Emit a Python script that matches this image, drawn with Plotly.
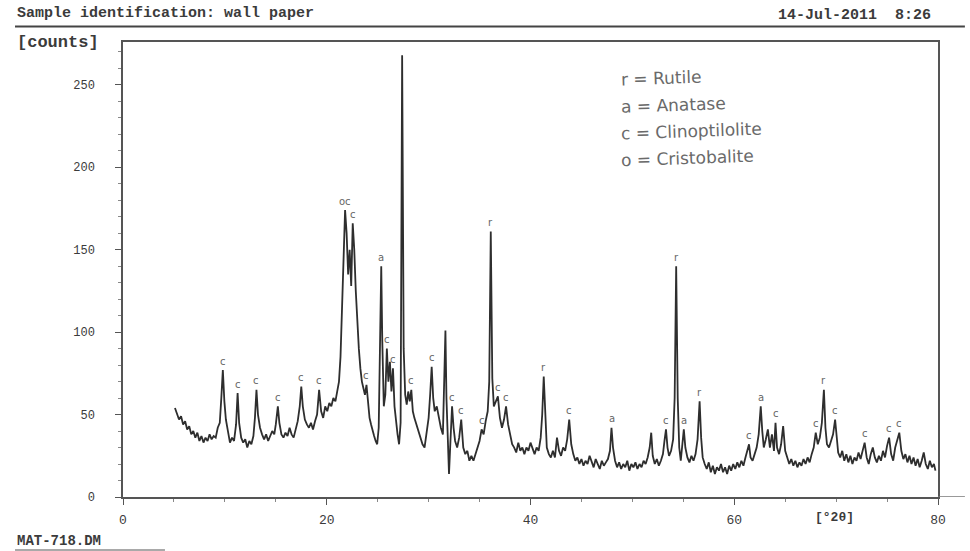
import plotly.graph_objects as go

# Diffraction scan: 2-theta (degrees) and intensity (counts)
two_theta = [
    5.1, 5.3, 5.5, 5.7, 5.9, 6.1, 6.3, 6.5, 6.7, 6.9, 7.1, 7.3, 7.5, 7.7, 7.9, 8.1, 8.3, 8.5, 8.7, 8.9,
    9.1, 9.3, 9.5, 9.65, 9.8, 9.95, 10.1, 10.3, 10.5, 10.7, 10.9, 11.1, 11.25, 11.4, 11.6, 11.8, 12.0,
    12.2, 12.4, 12.6, 12.8, 12.95, 13.1, 13.25, 13.45, 13.65, 13.85, 14.05, 14.25, 14.45, 14.65, 14.85,
    15.0, 15.2, 15.35, 15.55, 15.75, 15.95, 16.15, 16.35, 16.55, 16.75, 16.95, 17.15, 17.35, 17.5, 17.65,
    17.85, 18.05, 18.25, 18.45, 18.65, 18.85, 19.05, 19.25, 19.45, 19.65, 19.85, 20.05, 20.25, 20.45,
    20.65, 20.85, 21.05, 21.2, 21.35, 21.5, 21.65, 21.8, 21.95, 22.1, 22.25, 22.4, 22.55, 22.7, 22.85,
    23.0, 23.15, 23.3, 23.45, 23.6, 23.75, 23.9, 24.05, 24.2, 24.35, 24.5, 24.65, 24.8, 24.95, 25.1,
    25.25, 25.35, 25.45, 25.6, 25.75, 25.9, 26.05, 26.2, 26.35, 26.5, 26.65, 26.8, 26.95, 27.1, 27.25,
    27.4, 27.55, 27.7, 27.85, 28.0, 28.15, 28.3, 28.45, 28.6, 28.8, 29.0, 29.2, 29.4, 29.6, 29.8, 30.0,
    30.15, 30.3, 30.45, 30.6, 30.8, 31.0, 31.2, 31.4, 31.55, 31.65, 31.75, 31.9, 32.0, 32.15, 32.3,
    32.45, 32.6, 32.8, 33.0, 33.2, 33.4, 33.6, 33.8, 34.0, 34.2, 34.4, 34.6, 34.8, 35.0, 35.2, 35.4,
    35.6, 35.8, 35.95, 36.1, 36.25, 36.4, 36.6, 36.8, 37.0, 37.2, 37.4, 37.6, 37.8, 38.0, 38.2, 38.4,
    38.6, 38.8, 39.0, 39.2, 39.4, 39.6, 39.8, 40.0, 40.2, 40.4, 40.6, 40.8, 41.0, 41.15, 41.3, 41.45,
    41.6, 41.8, 42.0, 42.2, 42.4, 42.6, 42.8, 43.0, 43.2, 43.4, 43.6, 43.8, 44.0, 44.2, 44.4, 44.6,
    44.8, 45.0, 45.2, 45.4, 45.6, 45.8, 46.0, 46.2, 46.4, 46.6, 46.8, 47.0, 47.2, 47.4, 47.6, 47.8,
    47.95, 48.1, 48.3, 48.5, 48.7, 48.9, 49.1, 49.3, 49.5, 49.7, 49.9, 50.1, 50.3, 50.5, 50.7, 50.9,
    51.1, 51.3, 51.5, 51.7, 51.85, 52.0, 52.2, 52.4, 52.6, 52.8, 53.0, 53.15, 53.3, 53.45, 53.6, 53.8,
    54.0, 54.15, 54.3, 54.45, 54.6, 54.75, 54.9, 55.05, 55.2, 55.4, 55.6, 55.8, 56.0, 56.2, 56.4, 56.6,
    56.75, 56.9, 57.1, 57.3, 57.5, 57.7, 57.9, 58.1, 58.3, 58.5, 58.7, 58.9, 59.1, 59.3, 59.5, 59.7,
    59.9, 60.1, 60.3, 60.5, 60.7, 60.9, 61.1, 61.3, 61.45, 61.6, 61.8, 62.0, 62.2, 62.4, 62.6, 62.75,
    62.9, 63.1, 63.3, 63.5, 63.7, 63.9, 64.05, 64.2, 64.4, 64.6, 64.8, 65.0, 65.2, 65.4, 65.6, 65.8,
    66.0, 66.2, 66.4, 66.6, 66.8, 67.0, 67.2, 67.4, 67.6, 67.8, 68.0, 68.2, 68.4, 68.6, 68.8, 68.95,
    69.1, 69.3, 69.5, 69.7, 69.9, 70.05, 70.2, 70.4, 70.6, 70.8, 71.0, 71.2, 71.4, 71.6, 71.8, 72.0,
    72.2, 72.4, 72.6, 72.8, 73.0, 73.2, 73.4, 73.6, 73.8, 74.0, 74.2, 74.4, 74.6, 74.8, 75.0, 75.2,
    75.4, 75.6, 75.8, 76.0, 76.2, 76.4, 76.6, 76.8, 77.0, 77.2, 77.4, 77.6, 77.8, 78.0, 78.2, 78.4,
    78.6, 78.8, 79.0, 79.2, 79.4, 79.6, 79.75,
]
counts = [
    54, 50, 47, 49, 44, 46, 41, 43, 38, 40, 36, 39, 34, 37, 33, 36, 34, 38, 35, 37,
    36, 42, 45, 60, 77, 58, 47, 40, 33, 36, 34, 44, 63, 45, 36, 33, 35,
    30, 34, 32, 37, 48, 65, 50, 42, 38, 35, 38, 34, 37, 40, 38,
    44, 55, 45, 38, 36, 39, 37, 42, 38, 36, 41, 46, 55, 67, 55,
    47, 44, 42, 45, 41, 46, 50, 65, 52, 48, 55, 52, 57, 55,
    60, 58, 64, 70, 85, 120, 155, 174, 160, 135, 150, 128, 166, 150, 125,
    105, 90, 78, 70, 66, 62, 68, 55, 48, 44, 40, 37, 34, 32, 42,
    90, 140, 95, 55, 62, 90, 70, 82, 64, 78, 55, 45, 38, 32, 45,
    268, 90, 62, 56, 64, 58, 65, 52, 48, 44, 40, 36, 32, 30, 38, 48,
    62, 79, 60, 52, 55, 48, 42, 38, 70, 101, 60, 30, 14, 35, 55,
    42, 34, 30, 36, 47, 30, 26, 28, 22, 25, 22, 26, 30, 34, 41, 38,
    46, 52, 70, 161, 72, 55, 58, 61, 48, 42, 47, 55, 44, 38, 32, 30,
    27, 33, 28, 30, 26, 30, 28, 33, 30, 26, 30, 28, 36, 50, 73, 45,
    30, 26, 24, 28, 24, 36, 28, 25, 30, 28, 35, 47, 32, 26, 22, 24,
    20, 23, 19, 22, 20, 25, 21, 18, 23, 20, 17, 22, 19, 21, 23, 28,
    42, 30, 22, 18, 21, 17, 20, 18, 22, 16, 20, 18, 21, 17, 20, 18,
    22, 20, 24, 30, 39, 25, 20, 23, 19, 22, 26, 34, 41, 30, 25, 28,
    35, 60, 140, 60, 30, 22, 30, 41, 30, 24, 21, 25, 22, 26, 35, 58,
    36, 24, 20, 17, 21, 15, 19, 14, 18, 16, 20, 15, 18, 14, 19, 16,
    20, 17, 21, 18, 22, 19, 24, 28, 32, 24, 22, 26, 30, 38, 55, 40,
    30, 35, 41, 30, 38, 28, 45, 30, 26, 32, 43, 28, 24, 20, 23, 19,
    22, 18, 21, 19, 23, 20, 24, 21, 26, 30, 39, 32, 36, 45, 65, 42,
    32, 30, 34, 38, 47, 34, 27, 24, 28, 22, 26, 21, 25, 20, 24, 22,
    27, 23, 28, 33, 24, 20, 26, 30, 24, 21, 25, 22, 28, 24, 31, 36,
    26, 22, 30, 35, 39, 28, 23, 26, 21, 25, 20, 24, 19, 23, 18, 22,
    27, 20, 17, 22, 18, 20, 16,
]

# Phase marks written above the reflections
mark_2theta = [9.8, 11.25, 13.1, 15.2, 17.5, 19.25, 21.8, 22.55, 23.9, 25.35, 25.9, 26.5,
               28.3, 30.3, 32.3, 33.2, 35.2, 36.1, 36.8, 37.6, 41.3, 43.8, 48.0, 53.3,
               54.3, 55.05, 56.6, 61.45, 62.6, 64.05, 68.0, 68.8, 69.9, 72.8, 75.2, 76.2]
mark_letter = ["c", "c", "c", "c", "c", "c", "oc", "c", "c", "a", "c", "c",
               "c", "c", "c", "c", "c", "r", "c", "c", "r", "c", "a", "c",
               "r", "a", "r", "c", "a", "c", "c", "r", "c", "c", "c", "c"]

phase_key = ["r = Rutile", "a = Anatase", "c = Clinoptilolite", "o = Cristobalite"]

y_ticks = [0, 50, 100, 150, 200, 250]
x_ticks = [0, 20, 40, 60, 80]

X_MAX, Y_MAX = 80, 276
MONO = "Liberation Mono, DejaVu Sans Mono, monospace"
INK = "#3b3b3b"

fig = go.Figure()
fig.add_trace(go.Scatter(
    x=two_theta, y=counts, mode="lines",
    line=dict(color="#2e2e2e", width=1.8),
    hoverinfo="x+y", showlegend=False,
))

annotations = []
for t, letter in zip(mark_2theta, mark_letter):
    peak = max(c for x, c in zip(two_theta, counts) if abs(x - t) <= 0.1)
    annotations.append(dict(
        x=t, y=peak, xref="x", yref="y", text=letter, showarrow=False,
        yshift=9, font=dict(family="DejaVu Sans", size=10, color="#666666"),
    ))

# handwritten phase key
for i, line in enumerate(phase_key):
    annotations.append(dict(
        x=0.608, y=0.92 - i * 0.058, xref="paper", yref="paper", text=line,
        xanchor="left", yanchor="middle", showarrow=False, textangle=-2,
        font=dict(family="DejaVu Sans", size=17, color="#6a6a6a"),
    ))

annotations += [
    dict(x=-0.1325, y=1.062, xref="paper", yref="paper", xanchor="left", yanchor="middle",
         text="<b>Sample identification: wall paper</b>", showarrow=False,
         font=dict(family=MONO, size=15, color=INK)),
    dict(x=0.994, y=1.059, xref="paper", yref="paper", xanchor="right", yanchor="middle",
         text="<b>14-Jul-2011  8:26</b>", showarrow=False,
         font=dict(family=MONO, size=15, color=INK)),
    dict(x=-0.1325, y=0.998, xref="paper", yref="paper", xanchor="left", yanchor="middle",
         text="<b>[counts]</b>", showarrow=False,
         font=dict(family=MONO, size=17, color=INK)),
    dict(x=69.8, y=-0.044, xref="x", yref="paper", xanchor="center", yanchor="middle",
         text="<b>[°2θ]</b>", showarrow=False,
         font=dict(family=MONO, size=13, color=INK)),
    dict(x=-0.1325, y=-0.097, xref="paper", yref="paper", xanchor="left", yanchor="middle",
         text="<b>MAT-718.DM</b>", showarrow=False,
         font=dict(family=MONO, size=14, color=INK)),
]

shapes = [
    # header rule
    dict(type="line", xref="paper", yref="paper", x0=-0.1325, x1=1.033, y0=1.034, y1=1.034,
         line=dict(color="#444444", width=2), layer="above"),
    # file-name underline
    dict(type="line", xref="paper", yref="paper", x0=-0.1325, x1=0.0515, y0=-0.1165, y1=-0.1165,
         line=dict(color="#555555", width=1.2)),
    # baseline running past the frame
    dict(type="line", xref="paper", yref="y", x0=1.0, x1=1.033, y0=0, y1=0,
         line=dict(color="#777777", width=1.5)),
]

fig.update_layout(
    width=970, height=551,
    margin=dict(l=123, r=32, t=42, b=54),
    paper_bgcolor="white", plot_bgcolor="white",
    annotations=annotations, shapes=shapes,
    xaxis=dict(
        range=[0, X_MAX], tickvals=x_ticks,
        showgrid=False, zeroline=False, showline=True, linecolor="#555555", linewidth=1.5,
        mirror=True, ticks="outside", ticklen=6, tickcolor="#555555",
        minor=dict(dtick=5, ticks="outside", ticklen=3, tickcolor="#888888"),
        tickfont=dict(family=MONO, size=13, color=INK), ticklabelstandoff=4,
    ),
    yaxis=dict(
        range=[0, Y_MAX], tickvals=y_ticks,
        showgrid=False, zeroline=False, showline=True, linecolor="#555555", linewidth=1.5,
        mirror=True, ticks="outside", ticklen=6, tickcolor="#555555",
        minor=dict(dtick=10, ticks="outside", ticklen=3, tickcolor="#888888"),
        tickfont=dict(family=MONO, size=12, color=INK), ticklabelstandoff=18,
    ),
)

fig.write_html("out.html")
